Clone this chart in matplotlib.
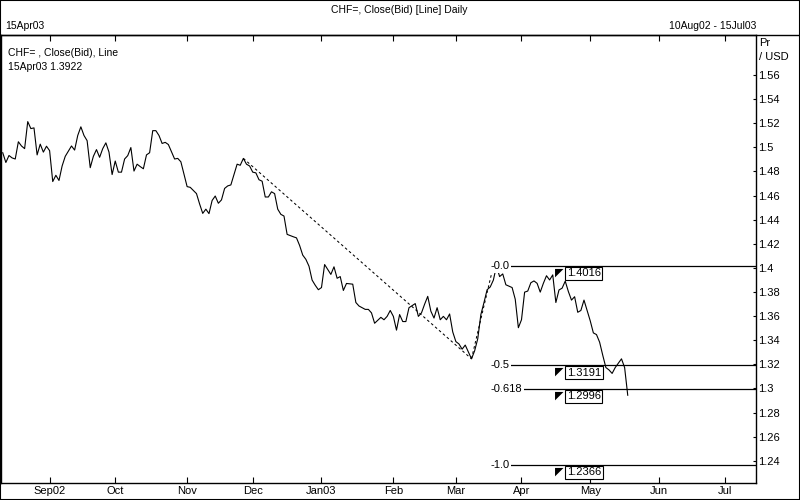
import numpy as np
import pandas as pd
import matplotlib
matplotlib.use("Agg")
import matplotlib.pyplot as plt
from matplotlib.lines import Line2D
from matplotlib.patches import Rectangle

plt.rcParams['font.family'] = ['Liberation Sans', 'DejaVu Sans']
plt.rcParams['font.size'] = 7.5

# trading day number (0 = Mon 12 Aug 2002) and CHF= close (bid)
day = [0, 1, 2, 3, 4, 5, 6, 7, 8, 9, 10, 11, 12, 13, 14, 15, 16, 17, 18, 19, 20,
       22, 23, 24, 25, 26, 27, 28, 29, 30, 31, 32, 33, 34, 35, 36, 37, 38, 39, 40,
       41, 42, 43, 44, 45, 46, 47, 48, 49, 50, 51, 52, 53, 55, 56, 57, 59, 60, 62,
       63, 64, 65, 66, 67, 68, 69, 70, 71, 72, 73, 75, 76, 77, 78, 79, 80, 81, 82,
       83, 84, 85, 86, 87, 88, 89, 90, 91, 93, 94, 95, 96, 97, 98, 99, 100, 101,
       102, 103, 105, 106, 107, 108, 109, 110, 112, 113, 114, 116, 117, 118, 119,
       121, 122, 123, 124, 125, 126, 127, 128, 129, 130, 132, 133, 134, 135, 136,
       137, 138, 139, 140, 141, 142, 143, 144, 145, 146, 147, 148, 149, 150, 151,
       152, 153, 154, 155, 156, 157, 158, 159, 160, 161, 163, 164, 165, 166, 167,
       168, 169, 170, 171, 172, 173, 174, 175, 176, 177, 178, 179, 180, 181, 182,
       183, 184, 185, 186, 187, 188, 189, 190, 191, 192, 193, 194, 195, 196, 198,
       199, 200]
bid = [1.4955, 1.4874, 1.4932, 1.4912, 1.4903, 1.5046, 1.5011, 1.4989, 1.5213, 1.5155,
       1.5161, 1.4937, 1.5026, 1.4960, 1.5009, 1.4972, 1.4716, 1.4768, 1.4725, 1.4845,
       1.4925, 1.5011, 1.4977, 1.5098, 1.5170, 1.5098, 1.5055, 1.4831, 1.4925, 1.4981,
       1.4917, 1.4989, 1.5037, 1.4960, 1.4774, 1.4886, 1.4794, 1.4794, 1.4903, 1.4931,
       1.4998, 1.4803, 1.4860, 1.4840, 1.4822, 1.4937, 1.4955, 1.5138, 1.5138, 1.5098,
       1.5032, 1.5041, 1.5023, 1.4903, 1.4908, 1.4880, 1.4674, 1.4668, 1.4616, 1.4530,
       1.4452, 1.4487, 1.4450, 1.4559, 1.4596, 1.4536, 1.4564, 1.4659, 1.4680, 1.4688,
       1.4860, 1.4851, 1.4908, 1.4860, 1.4845, 1.4794, 1.4788, 1.4731, 1.4719, 1.4588,
       1.4588, 1.4631, 1.4616, 1.4487, 1.4444, 1.4430, 1.4278, 1.4258, 1.4249, 1.4186,
       1.4106, 1.4071, 1.4014, 1.3899, 1.3856, 1.3819, 1.3837, 1.4028, 1.3946, 1.4009,
       1.3914, 1.3928, 1.3813, 1.3871, 1.3865, 1.3713, 1.3684, 1.3656, 1.3656, 1.3627,
       1.3541, 1.3590, 1.3570, 1.3598, 1.3647, 1.3598, 1.3484, 1.3613, 1.3555, 1.3555,
       1.3670, 1.3704, 1.3598, 1.3627, 1.3699, 1.3764, 1.3641, 1.3584, 1.3670, 1.3570,
       1.3598, 1.3570, 1.3618, 1.3469, 1.3389, 1.3369, 1.3326, 1.3360, 1.3303, 1.3246,
       1.3312, 1.3412, 1.3613, 1.3713, 1.3819, 1.3842, 1.3899, 1.4016, 1.3928, 1.3950,
       1.3860, 1.3837, 1.3740, 1.3504, 1.3570, 1.3799, 1.3808, 1.3877, 1.3892, 1.3872,
       1.3799, 1.3872, 1.3935, 1.3900, 1.3942, 1.3713, 1.3817, 1.3832, 1.3890, 1.3804,
       1.3733, 1.3761, 1.3632, 1.3647, 1.3733, 1.3647, 1.3561, 1.3461, 1.3447, 1.3384,
       1.3276, 1.3174, 1.3154, 1.3125, 1.3174, 1.3246, 1.3174, 1.2944]

# dashed trend lines
trend_day = [77, 150]
trend_bid = [1.4908, 1.3246]
rise_day = [150, 157]
rise_bid = [1.3246, 1.4016]

# fibonacci levels
fib_level = [1.4016, 1.3191, 1.2996, 1.2366]
fib_label = ["-0.0", "-0.5", "-0.618", "-1.0"]
fib_start = 156
box_day = 180.5
tri_day = 178.1

month_names = ["Sep02", "Oct", "Nov", "Dec", "Jan03", "Feb", "Mar", "Apr", "May", "Jun", "Jul"]
yticks = [1.24, 1.26, 1.28, 1.3, 1.32, 1.34, 1.36, 1.38, 1.4, 1.42, 1.44, 1.46, 1.48,
          1.5, 1.52, 1.54, 1.56]

dates = pd.bdate_range("2002-08-12", "2003-07-15")
month_starts = pd.date_range("2002-09-01", "2003-07-01", freq="MS")
month_pos = np.searchsorted(dates.values, month_starts.values)

W, H = 785, 482  # layout of the original screen grab
fig = plt.figure(figsize=(8, 5), dpi=100)
ax = fig.add_axes([1 / W, 1 - 466 / H, 741 / W, 432 / H])

ax.plot(day, bid, color="black", lw=0.8)
ax.plot(trend_day, trend_bid, color="black", lw=0.75, ls=(0, (2.5, 2.5)))
ax.plot(rise_day, rise_bid, color="black", lw=0.75, ls=(0, (2.5, 2.5)))

xmax = len(dates) - 1 + 0.1
for lev, lab in zip(fib_level, fib_label):
    ax.hlines(lev, fib_start, xmax, color="black", lw=0.9)
    ax.text(fib_start, lev, lab, va="center", ha="left", fontsize=8,
            bbox=dict(facecolor="white", edgecolor="none", pad=1.2))
    ax.annotate("%.4f" % lev, (box_day, lev), xytext=(0, -1.6), textcoords="offset points",
                va="top", ha="left", fontsize=8,
                bbox=dict(boxstyle="square,pad=0.15", fc="white", ec="black", lw=0.8))
    ax.annotate("\u25e4", (tri_day, lev), xytext=(0, -1.2), textcoords="offset points",
                va="top", ha="center", fontsize=8)

ax.set_xlim(-0.55, xmax)
ax.set_ylim(1.2213, 1.5929)

ax.yaxis.tick_right()
ax.set_yticks(yticks)
ax.set_yticklabels(["%g" % v for v in yticks])
ax.tick_params(axis="y", direction="in", length=2.5, pad=1.5, width=0.8, labelsize=8)
ax.set_xticks(month_pos)
ax.set_xticklabels(month_names)
ax.tick_params(axis="x", direction="in", length=4.5, pad=2, top=True, width=0.8, labelsize=8)
for s in ax.spines.values():
    s.set_linewidth(1)

fig.add_artist(Line2D([0, 1], [1 - 34 / H, 1 - 34 / H], transform=fig.transFigure,
                      color="black", lw=1))
fig.add_artist(Rectangle((0, 0), 1, 1, transform=fig.transFigure, fill=False,
                         ec="black", lw=1.5))

fig.text(392 / W, 1 - 10 / H, "CHF=, Close(Bid) [Line] Daily", ha="center", va="center")
fig.text(5 / W, 1 - 25 / H, "15Apr03", ha="left", va="center")
fig.text(742 / W, 1 - 25 / H, "10Aug02 - 15Jul03", ha="right", va="center")
fig.text(8 / W, 1 - 51.5 / H, "CHF= , Close(Bid), Line", ha="left", va="center")
fig.text(8 / W, 1 - 65 / H, "15Apr03 1.3922", ha="left", va="center")
fig.text(745 / W, 1 - 41 / H, "Pr", ha="left", va="center", fontsize=8)
fig.text(745 / W, 1 - 55 / H, "/ USD", ha="left", va="center", fontsize=8)

fig.savefig("out.png", dpi=100)
